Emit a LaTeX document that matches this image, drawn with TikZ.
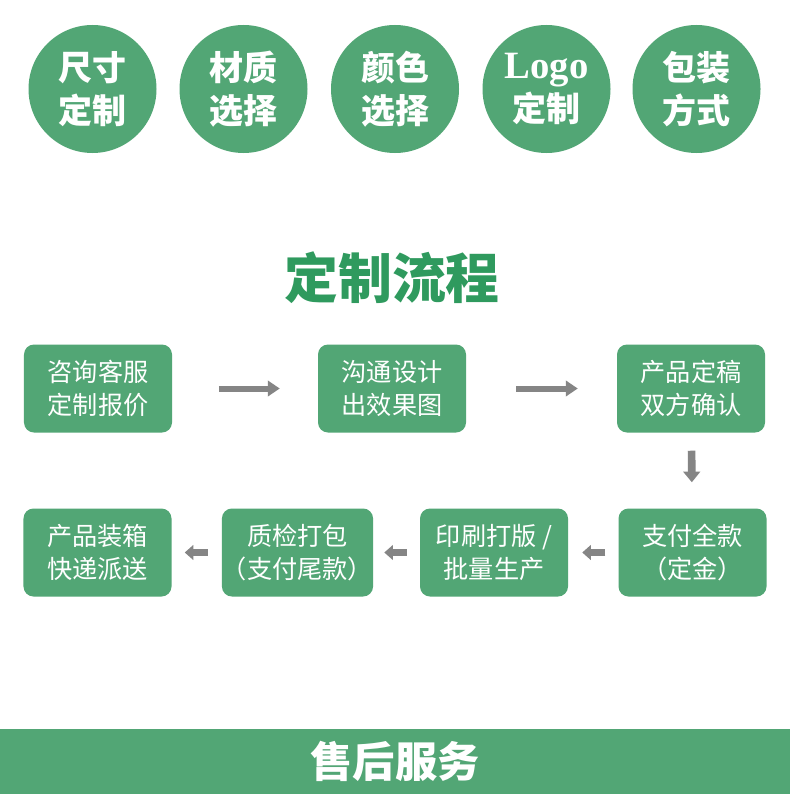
\documentclass[tikz,border=0pt]{standalone}
\usepackage{fontspec}
\usepackage{tikz}
\usetikzlibrary{positioning, arrows.meta}
\newfontfamily\cjk{Noto Sans CJK SC}
\newfontfamily\logofont{Liberation Serif}
\definecolor{leaf}{HTML}{52A675}
\definecolor{leafdark}{HTML}{2F9A5E}
\definecolor{arrowgrey}{HTML}{858585}
\tikzset{
  option/.style  = {circle, fill=leaf, minimum size=38.4mm, inner sep=0pt,
                    align=center, text=white,
                    font=\cjk\bfseries\fontsize{29}{37}\selectfont},
  stage/.style   = {rectangle, rounded corners=3mm, fill=leaf, text=white,
                    minimum width=44.4mm, minimum height=26.4mm, inner sep=0pt,
                    align=center, font=\cjk\fontsize{21.5}{28.5}\selectfont},
  heading/.style = {text=leafdark, font=\cjk\bfseries\fontsize{46}{50}\selectfont},
  band/.style    = {rectangle, fill=leaf, text=white, minimum width=237mm,
                    minimum height=19.5mm, inner sep=0pt,
                    font=\cjk\bfseries\fontsize{36}{40}\selectfont},
  ar/.style      = {-{Triangle[length=3.6mm,width=4.6mm]}, line width=1.8mm, draw=arrowgrey},
  dar/.style     = {-{Triangle[length=3.2mm,width=5mm]}, line width=2.3mm, draw=arrowgrey},
  bar/.style     = {-{Triangle[length=2.6mm,width=4.4mm]}, line width=1.9mm, draw=arrowgrey},
}

\begin{document}
\begin{tikzpicture}[x=0.3mm, y=-0.3mm]

  \fill[white] (0,0) rectangle (790,806);
  \useasboundingbox (0,0) rectangle (790,806);

  % options
  \node[option] (size)  at (92.5,89)  {尺寸\\定制};
  \node[option] (stuff) at (243.5,89) {材质\\选择};
  \node[option] (color) at (395,89)   {颜色\\选择};
  \node[option] (logo)  at (546.5,89) {{\logofont\fontsize{33}{37}\selectfont Logo}\\定制};
  \node[option] (pack)  at (696.5,89) {包装\\方式};

  \node[heading] (title) at (392,278) {定制流程};

  % first row
  \node[stage] (ask)     at (98,388.5)  {咨询客服\\定制报价};
  \node[stage] (design)  at (392,388.5) {沟通设计\\出效果图};
  \node[stage] (confirm) at (691,388.5) {产品定稿\\双方确认};

  % second row
  \node[stage] (pay)   at (692.5,552.5) {支付全款\\（定金）};
  \node[stage] (print) at (494,552.5)   {印刷打版 /\\批量生产};
  \node[stage] (check) at (297.5,552.5) {质检打包\\（支付尾款）};
  \node[stage] (ship)  at (97.5,552.5)  {产品装箱\\快递派送};

  \draw[ar, shorten <=14mm, shorten >=11.4mm] (ask) -- (design);
  \draw[ar, shorten <=15mm, shorten >=11.7mm] (design) -- (confirm);
  \draw[dar, shorten <=5.4mm, shorten >=7.8mm] (confirm) -- (pay);
  \draw[bar, shorten <=3.9mm, shorten >=4.2mm] (pay) -- (print);
  \draw[bar, shorten <=3.9mm, shorten >=3.3mm] (print) -- (check);
  \draw[bar, shorten <=4.2mm, shorten >=3.9mm] (check) -- (ship);

  \node[band] (service) at (395,761.5) {售后服务};

\end{tikzpicture}
\end{document}
